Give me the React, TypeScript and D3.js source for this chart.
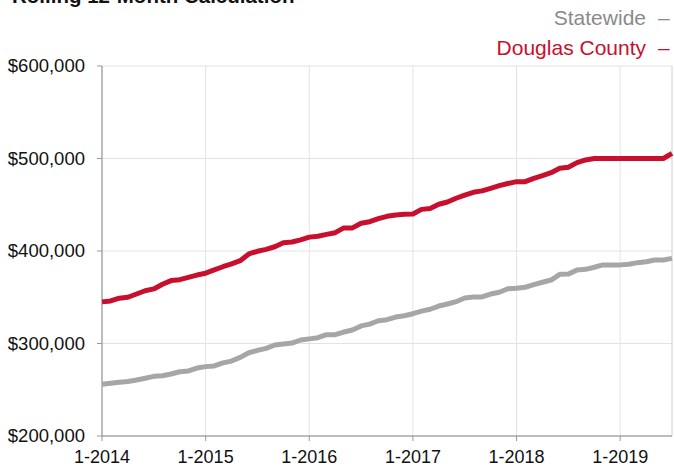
import React from "react";
import * as d3 from "d3";

const W = 674;
const H = 468;

const monthLabels: string[] = [];
for (let y = 2014; y <= 2019; y++) for (let m = 1; m <= 12; m++) monthLabels.push(`${m}-${y}`);
const months = monthLabels.slice(0, 67);

const douglas = [
  345, 346, 349, 350, 353.5, 357, 359, 364, 368, 369, 371.5, 374,
  376, 379.5, 383, 386, 389.5, 396.8, 399.7, 401.8, 404.6, 409, 409.7, 412,
  415, 416, 418, 419.8, 425, 425, 430, 431.7, 435, 437.5, 439, 439.7,
  440, 445, 446, 450.5, 453, 457, 460.5, 463.5, 465, 467.8, 470.6, 473,
  475, 475, 478.6, 481.4, 484.7, 489.4, 490.5, 495.5, 498.4, 500, 500, 500,
  500, 500, 500, 500, 500, 500, 505.5,
].map((v) => v * 1000);

const statewide = [
  255.9, 257, 258, 259, 260.5, 262.4, 264.5, 265.2, 267, 269.5, 270.3, 273.5,
  275, 275.7, 279, 281, 285, 290, 292.6, 294.8, 298.4, 299.5, 300.5, 303.8,
  305, 306.3, 309.5, 309.5, 312.4, 314.6, 319, 321, 324.6, 325.7, 328.6, 330,
  332.2, 335, 337, 340.5, 342.7, 345.2, 349.2, 350.3, 350.3, 353.5, 355.4, 359.2,
  359.7, 360.8, 363.6, 366.2, 368.6, 374.8, 375, 379.5, 380.2, 382.4, 385, 385,
  385, 385.6, 387.4, 388.4, 390.3, 390.3, 392,
].map((v) => v * 1000);

const yTicks = [200000, 300000, 400000, 500000, 600000];
const xTickLabels = ["1-2014", "1-2015", "1-2016", "1-2017", "1-2018", "1-2019"];
const seriesNames = ["Statewide", "Douglas County"];
const title = "Rolling 12-Month Calculation";

const RED = "#c8102e";
const GRAY = "#a6a6a6";

export default function App() {
  const left = 102, right = 672, top = 66, bottom = 436;
  const x = d3.scaleLinear().domain([0, months.length - 1]).range([left, right]);
  const y = d3.scaleLinear().domain([200000, 600000]).range([bottom, top]);
  const line = d3
    .line<number>()
    .x((_, i) => x(i))
    .y((d) => y(d));
  const fmt = (v: number) => "$" + d3.format(",")(v);
  const font = "'Liberation Sans', Arial, Helvetica, sans-serif";

  return (
    <svg
      width={W}
      height={H}
      style={{ position: "absolute", left: 0, top: 0, background: "#fff" }}
      fontFamily={font}
    >
      <text x={12} y={3} fontSize={20.5} fontWeight={700} fill="#111">
        {title}
      </text>
      <text x={646} y={25} fontSize={21} fill="#8a8a8a" textAnchor="end">
        {seriesNames[0]}
      </text>
      <text x={658} y={25} fontSize={21} fill="#8a8a8a">
        {"\u2013"}
      </text>
      <text x={646} y={55} fontSize={21} fill={RED} textAnchor="end">
        {seriesNames[1]}
      </text>
      <text x={658} y={55} fontSize={21} fill={RED}>
        {"\u2013"}
      </text>
      {yTicks.map((t) => (
        <g key={t}>
          <line x1={left} x2={right} y1={y(t)} y2={y(t)} stroke="#e3e3e3" strokeWidth={1} />
          <line x1={left - 5} x2={left} y1={y(t)} y2={y(t)} stroke="#999" strokeWidth={1} />
          <text x={85} y={y(t)} dy="0.35em" fontSize={18.5} textAnchor="end" fill="#111">
            {fmt(t)}
          </text>
        </g>
      ))}
      {xTickLabels.map((lab) => {
        const i = months.indexOf(lab);
        const xp = x(i);
        return (
          <g key={lab}>
            <line x1={xp} x2={xp} y1={top} y2={bottom} stroke="#e3e3e3" strokeWidth={1} />
            <line x1={xp} x2={xp} y1={bottom} y2={bottom + 5} stroke="#999" strokeWidth={1} />
            <text x={xp} y={463} fontSize={18} textAnchor="middle" fill="#111">
              {lab}
            </text>
          </g>
        );
      })}
      <line x1={right} x2={right} y1={top} y2={bottom} stroke="#d0d0d0" strokeWidth={1} />
      <line x1={left} x2={left} y1={top} y2={bottom} stroke="#888" strokeWidth={1} />
      <line x1={left} x2={right} y1={bottom} y2={bottom} stroke="#888" strokeWidth={1} />
      <path d={line(statewide) || ""} fill="none" stroke={GRAY} strokeWidth={5} strokeLinejoin="round" />
      <path d={line(douglas) || ""} fill="none" stroke={RED} strokeWidth={5} strokeLinejoin="round" />
    </svg>
  );
}
